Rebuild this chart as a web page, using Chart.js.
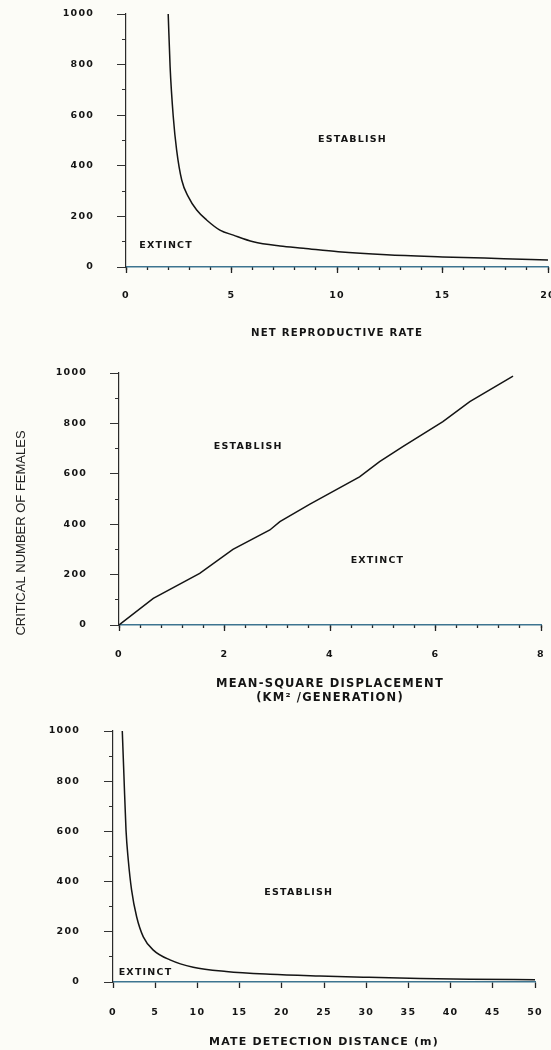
<!DOCTYPE html>
<html>
<head>
<meta charset="utf-8">
<script src="https://cdn.jsdelivr.net/npm/chart.js@4.4.1/dist/chart.umd.min.js"></script>
<style>
  body { margin: 0; background: #fcfcf7; width: 551px; height: 1050px; position: relative; overflow: hidden; }
  canvas { position: absolute; left: 0; }
</style>
</head>
<body>
<canvas id="c1" width="551" height="345" style="top:0px"></canvas>
<canvas id="c2" width="551" height="360" style="top:345px"></canvas>
<canvas id="c3" width="551" height="345" style="top:705px"></canvas>
<script>
// top panel: net reproductive rate
var rateX = [2.0, 2.09, 2.24, 2.40, 2.64, 2.95, 3.35, 3.82, 4.45, 5.09, 6.03, 7.3, 8.4, 10.06, 12.35, 15.0, 17.9, 20.0];
var rateY = [1000, 792, 594, 462, 344, 278, 225, 186, 146, 126, 100, 83, 74, 60, 48, 40, 33, 28];
var rateTicks = [0, 5, 10, 15, 20];

// middle panel: mean-square displacement
var dispX = [0, 0.65, 1.53, 2.16, 2.86, 3.05, 3.62, 4.56, 4.94, 5.38, 6.14, 6.65, 7.47];
var dispY = [0, 106, 205, 300, 377, 410, 480, 588, 648, 708, 807, 886, 988];
var dispTicks = [0, 2, 4, 6, 8];

// bottom panel: mate detection distance
var distX = [1.1, 1.3, 1.54, 1.81, 2.2, 2.8, 3.59, 4.78, 6.75, 9.5, 13.4, 18.6, 24.5, 30, 36.4, 42.3, 50];
var distY = [1000, 818, 606, 486, 367, 260, 180, 127, 88, 59, 42, 31, 24, 19, 14, 11, 9];
var distTicks = [0, 5, 10, 15, 20, 25, 30, 35, 40, 45, 50];

var femaleTicks = [0, 200, 400, 600, 800, 1000];

var FONT = '"DejaVu Sans", Verdana, sans-serif';
var INK = '#141414';

var spacing = {
  id: 'spacing',
  beforeLayout: function(chart) { chart.ctx.letterSpacing = '1.2px'; },
  beforeDraw: function(chart) { chart.ctx.letterSpacing = '1.2px'; }
};

var regionLabels = {
  id: 'regionLabels',
  afterDatasetsDraw: function(chart, args, opts) {
    var ctx = chart.ctx, sx = chart.scales.x, sy = chart.scales.y;
    ctx.save();
    ctx.font = 'bold 9.5px ' + FONT;
    ctx.fillStyle = INK;
    ctx.textAlign = 'center';
    ctx.textBaseline = 'middle';
    (opts.items || []).forEach(function(it) {
      ctx.fillText(it.text, sx.getPixelForValue(it.x), sy.getPixelForValue(it.y));
    });
    if (opts.side) {
      ctx.letterSpacing = '0px';
      ctx.font = '13px "Liberation Sans", Arial, sans-serif';
      ctx.fillStyle = '#222';
      ctx.translate(opts.side.x, opts.side.y);
      ctx.rotate(-Math.PI / 2);
      ctx.fillText(opts.side.text, 0, 0);
    }
    ctx.restore();
  }
};

function plain(v) { return String(v); }

function makePanel(id, p) {
  var pts = p.xs.map(function(v, i) { return { x: v, y: p.ys[i] }; });
  return new Chart(document.getElementById(id), {
    type: 'scatter',
    data: {
      datasets: [{
        data: pts,
        showLine: true,
        borderColor: INK,
        borderWidth: 1.5,
        pointRadius: 0,
        tension: p.smooth ? 0.4 : 0,
        cubicInterpolationMode: p.smooth ? 'monotone' : 'default'
      }]
    },
    options: {
      responsive: false,
      animation: false,
      events: [],
      layout: { padding: { left: 0, right: p.padRight, top: p.padTop, bottom: 0 } },
      plugins: {
        legend: { display: false },
        tooltip: { enabled: false },
        regionLabels: { items: p.labels, side: p.side }
      },
      scales: {
        xMinor: {
          type: 'linear', position: 'bottom', weight: 0, min: 0, max: p.xMax,
          display: p.xMinor ? true : false,
          ticks: { display: false, stepSize: p.xMinor || 1 },
          grid: { drawOnChartArea: false, drawTicks: true, tickLength: 3, tickColor: '#222', tickWidth: 1.3 },
          border: { display: false },
          afterFit: function(s) { s.height = 0; s.paddingLeft = 0; s.paddingRight = 0; }
        },
        x: {
          type: 'linear', position: 'bottom', weight: 1, min: 0, max: p.xMax,
          afterBuildTicks: function(s) { s.ticks = p.xTicks.map(function(v) { return { value: v }; }); },
          ticks: { padding: p.xTickPad, color: INK, font: { family: FONT, size: 9.5, weight: 'bold' }, maxRotation: 0, callback: plain },
          grid: { drawOnChartArea: false, drawTicks: true, tickLength: 6, tickColor: '#222', tickWidth: 1.3 },
          border: { color: '#3d7490', width: 1.4 },
          title: {
            display: true, text: p.title, color: INK,
            font: { family: FONT, size: p.titleSize, weight: 'bold', lineHeight: '14px' },
            padding: { top: 0, bottom: p.titlePad }
          },
          afterFit: function(s) { s.height = p.xAxisH; s.paddingLeft = 0; s.paddingRight = 0; }
        },
        yMinor: {
          type: 'linear', position: 'left', weight: 0, min: 0, max: 1000,
          ticks: { display: false, stepSize: 100 },
          grid: { drawOnChartArea: false, tickLength: 4, tickColor: '#333' },
          border: { display: false },
          afterFit: function(s) { s.width = 0; s.paddingTop = 0; s.paddingBottom = 0; }
        },
        y: {
          type: 'linear', position: 'left', weight: 1, min: 0, max: 1000,
          afterBuildTicks: function(s) { s.ticks = femaleTicks.map(function(v) { return { value: v }; }); },
          ticks: { padding: p.yTickPad, color: INK, font: { family: FONT, size: 9.5, weight: 'bold' }, callback: plain },
          grid: { drawOnChartArea: false, tickLength: 9, tickColor: '#333' },
          border: { color: '#2a2a2a', width: 1.2 },
          afterFit: function(s) { s.width = p.left; s.paddingTop = 0; s.paddingBottom = 0; }
        }
      }
    },
    plugins: [spacing, regionLabels]
  });
}

makePanel('c1', {
  xs: rateX, ys: rateY, xTicks: rateTicks, xMax: 20, xMinor: 1, smooth: true,
  left: 126, padRight: 3, padTop: 14, xAxisH: 78,
  xTickPad: 17, yTickPad: 23, titlePad: 5, titleSize: 10.2,
  title: 'NET REPRODUCTIVE RATE',
  labels: [{ text: 'ESTABLISH', x: 10.73, y: 502 }, { text: 'EXTINCT', x: 1.9, y: 84 }]
});

makePanel('c2', {
  xs: dispX, ys: dispY, xTicks: dispTicks, xMax: 8, xMinor: 0.4, smooth: false,
  left: 119, padRight: 10, padTop: 28, xAxisH: 80,
  xTickPad: 18, yTickPad: 23, titlePad: 0, titleSize: 11.5,
  title: ['MEAN-SQUARE DISPLACEMENT', '(KM² /GENERATION)'],
  labels: [{ text: 'ESTABLISH', x: 2.45, y: 707 }, { text: 'EXTINCT', x: 4.9, y: 255 }],
  side: { text: 'CRITICAL NUMBER OF FEMALES', x: 21, y: 188 }
});

makePanel('c3', {
  xs: distX, ys: distY, xTicks: distTicks, xMax: 50, xMinor: 0, smooth: true,
  left: 113, padRight: 16, padTop: 26, xAxisH: 68,
  xTickPad: 19, yTickPad: 24, titlePad: 1, titleSize: 11,
  title: 'MATE DETECTION DISTANCE (m)',
  labels: [{ text: 'ESTABLISH', x: 22, y: 356 }, { text: 'EXTINCT', x: 3.85, y: 37 }]
});
</script>
</body>
</html>
